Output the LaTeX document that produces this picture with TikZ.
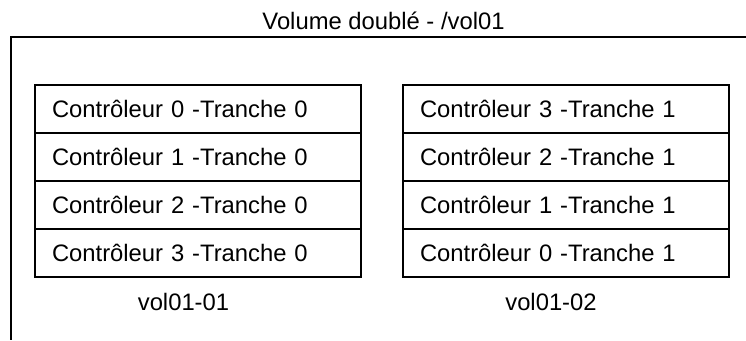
\documentclass[tikz,border=0pt]{standalone}
\usepackage{fontspec}
\setmainfont{Liberation Sans}
\begin{document}
\begin{tikzpicture}[x=1pt,y=-1pt,
  rowbox/.style={draw,line width=2.2pt,minimum height=48pt,text width=292pt,inner xsep=17pt,inner ysep=0pt,align=left,font=\fontsize{23.8}{28}\selectfont},
  lbl/.style={inner sep=0pt,font=\fontsize{23.8}{28}\selectfont},
  frame/.style={line width=1.1pt}]
\useasboundingbox (0,0) rectangle (746,340);
\coordinate (ftl) at (11,37);
\coordinate (ftr) at (746,37);
\coordinate (fbl) at (11,340);
\draw[frame] (ftr) -- (ftl) -- (fbl);
\node[lbl] (title) at (383.5,21) {Volume doublé - /vol01};
\node[rowbox] (a0) at (198,109) {Contrôleur 0 -Tranche 0};
\node[rowbox] (a1) at (198,157) {Contrôleur 1 -Tranche 0};
\node[rowbox] (a2) at (198,205) {Contrôleur 2 -Tranche 0};
\node[rowbox] (a3) at (198,253) {Contrôleur 3 -Tranche 0};
\node[rowbox] (b0) at (566,109) {Contrôleur 3 -Tranche 1};
\node[rowbox] (b1) at (566,157) {Contrôleur 2 -Tranche 1};
\node[rowbox] (b2) at (566,205) {Contrôleur 1 -Tranche 1};
\node[rowbox] (b3) at (566,253) {Contrôleur 0 -Tranche 1};
\node[lbl] (la) at (183.5,302) {vol01-01};
\node[lbl] (lb) at (551,302) {vol01-02};
\end{tikzpicture}
\end{document}
